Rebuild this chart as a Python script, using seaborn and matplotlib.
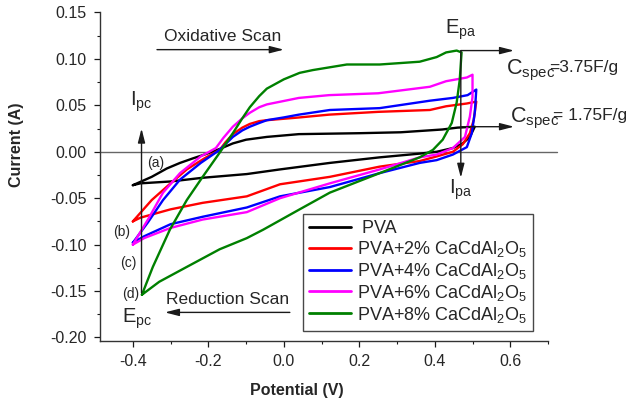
import numpy as np
import pandas as pd
import matplotlib
matplotlib.use("Agg")
import matplotlib.pyplot as plt
import seaborn as sns

# ---- cyclic voltammetry loops: forward (oxidative) branch then reverse branch ----
pva_v = [-0.40, -0.35, -0.31, -0.275, -0.24, -0.21, -0.17, -0.135, -0.10, -0.045, 0.04, 0.20, 0.31, 0.42, 0.46, 0.506,
         0.493, 0.474, 0.448, 0.405, 0.36, 0.254, 0.122, -0.01, -0.098, -0.215, -0.30, -0.38, -0.40]
pva_i = [-0.036, -0.027, -0.018, -0.012, -0.007, -0.003, 0.003, 0.009, 0.013, 0.016, 0.019, 0.020, 0.021, 0.024, 0.026, 0.027,
         0.016, 0.009, 0.004, 0.000, -0.002, -0.006, -0.012, -0.019, -0.024, -0.028, -0.032, -0.034, -0.036]

pva2_v = [-0.40, -0.35, -0.30, -0.257, -0.21, -0.17, -0.155, -0.135, -0.11, -0.09, -0.065, -0.045, 0.042, 0.12, 0.25,
          0.387, 0.43, 0.485, 0.51,
          0.503, 0.493, 0.474, 0.448, 0.405, 0.36, 0.254, 0.122, -0.01, -0.098, -0.215, -0.30, -0.38, -0.40]
pva2_i = [-0.075, -0.052, -0.034, -0.019, -0.007, 0.002, 0.010, 0.019, 0.026, 0.030, 0.033, 0.034, 0.037, 0.040, 0.043,
          0.045, 0.049, 0.052, 0.054,
          0.034, 0.020, 0.008, 0.000, -0.005, -0.010, -0.016, -0.027, -0.035, -0.048, -0.055, -0.062, -0.071, -0.075]

pva4_v = [-0.40, -0.36, -0.32, -0.275, -0.22, -0.17, -0.155, -0.135, -0.11, -0.09, -0.065, -0.045, 0.0, 0.04, 0.122,
          0.254, 0.387, 0.448, 0.487, 0.51,
          0.506, 0.498, 0.485, 0.448, 0.405, 0.36, 0.254, 0.122, -0.01, -0.098, -0.215, -0.30, -0.37, -0.40]
pva4_i = [-0.098, -0.076, -0.052, -0.030, -0.012, 0.002, 0.008, 0.016, 0.023, 0.027, 0.031, 0.034, 0.037, 0.040, 0.045,
          0.047, 0.055, 0.058, 0.061, 0.067,
          0.042, 0.020, 0.005, -0.003, -0.009, -0.012, -0.023, -0.038, -0.048, -0.060, -0.070, -0.078, -0.091, -0.098]

pva6_v = [-0.40, -0.36, -0.32, -0.275, -0.22, -0.18, -0.16, -0.135, -0.11, -0.09, -0.065, -0.045, 0.04, 0.12, 0.25,
          0.387, 0.43, 0.485, 0.50,
          0.50, 0.493, 0.48, 0.448, 0.405, 0.36, 0.254, 0.122, -0.01, -0.098, -0.215, -0.30, -0.37, -0.40]
pva6_i = [-0.100, -0.073, -0.044, -0.023, -0.005, 0.004, 0.015, 0.027, 0.036, 0.042, 0.048, 0.051, 0.058, 0.061, 0.063,
          0.070, 0.076, 0.080, 0.083,
          0.059, 0.038, 0.016, 0.004, -0.003, -0.006, -0.019, -0.034, -0.050, -0.065, -0.073, -0.082, -0.093, -0.100]

pva8_v = [-0.376, -0.347, -0.302, -0.257, -0.215, -0.17, -0.135, -0.11, -0.09, -0.065, -0.045, 0.0, 0.042, 0.077, 0.167,
          0.254, 0.325, 0.36, 0.405, 0.43, 0.458, 0.471,
          0.466, 0.458, 0.445, 0.421, 0.395, 0.36, 0.254, 0.122, 0.042, -0.055, -0.098, -0.17, -0.257, -0.33, -0.376]
pva8_i = [-0.154, -0.124, -0.084, -0.052, -0.027, -0.001, 0.020, 0.036, 0.048, 0.060, 0.068, 0.078, 0.085, 0.088, 0.094,
          0.094, 0.096, 0.097, 0.102, 0.107, 0.109, 0.107,
          0.077, 0.053, 0.031, 0.013, 0.002, -0.006, -0.023, -0.044, -0.062, -0.084, -0.093, -0.105, -0.124, -0.140, -0.154]

labels = [" PVA",
          "PVA+2% CaCdAl$_2$O$_5$",
          "PVA+4% CaCdAl$_2$O$_5$",
          "PVA+6% CaCdAl$_2$O$_5$",
          "PVA+8% CaCdAl$_2$O$_5$"]
colors = ["#000000", "#ff0000", "#0000ff", "#ff00ff", "#008000"]

x_ticks = [-0.4, -0.2, 0.0, 0.2, 0.4, 0.6]
y_ticks = [-0.20, -0.15, -0.10, -0.05, 0.00, 0.05, 0.10, 0.15]

# ---- tidy table for seaborn ----
frames = []
for lab, v, i in zip(labels, [pva_v, pva2_v, pva4_v, pva6_v, pva8_v],
                     [pva_i, pva2_i, pva4_i, pva6_i, pva8_i]):
    frames.append(pd.DataFrame({"Potential": v, "Current": i, "Sample": lab,
                                "step": np.arange(len(v))}))
df = pd.concat(frames, ignore_index=True)

sns.set_theme(style="ticks")
plt.rcParams["font.family"] = ["Liberation Sans", "DejaVu Sans"]
plt.rcParams["mathtext.fontset"] = "custom"
plt.rcParams["mathtext.rm"] = "Liberation Sans"
plt.rcParams["mathtext.it"] = "Liberation Sans:italic"
plt.rcParams["mathtext.bf"] = "Liberation Sans:bold"

fig = plt.figure(figsize=(6.27, 4.01), dpi=100)
ax = fig.add_axes([100 / 627, 1 - 341 / 401, 448 / 627, 328.5 / 401])

sns.lineplot(data=df, x="Potential", y="Current", hue="Sample", hue_order=labels,
             palette=colors, sort=False, estimator=None, lw=1.7, ax=ax)

ax.set_xlim(-0.487, 0.699)
ax.set_ylim(-0.2038, 0.15)
ax.set_xticks(x_ticks)
ax.set_xticklabels([f"{t:.1f}" for t in x_ticks])
ax.set_yticks(y_ticks)
ax.set_yticklabels([f"{t:.2f}" for t in y_ticks])
ax.set_xticks(np.arange(-0.4, 0.71, 0.1), minor=True)
ax.set_yticks(np.arange(-0.2, 0.151, 0.025), minor=True)
ax.tick_params(which="major", direction="out", length=4.5, width=0.9, labelsize=11.5, color="k", pad=5)
ax.tick_params(which="minor", direction="out", length=2.5, width=0.8, color="k")
sns.despine(ax=ax)
for s in ("left", "bottom"):
    ax.spines[s].set_color("#333333")
    ax.spines[s].set_linewidth(1.0)

ax.set_xlabel("Potential (V)", fontsize=11.5, fontweight="bold")
ax.xaxis.set_label_coords((297 - 100) / 448, -0.128)
ax.set_ylabel("Current (A)", fontsize=11.5, fontweight="bold")
ax.yaxis.set_label_coords(-0.17, (341 - 145) / 328.5)

# zero-current reference line
ax.plot([0, 1.02], [0, 0], transform=ax.get_yaxis_transform(), color="#666666",
        lw=1.0, clip_on=False, zorder=1)

arrow = dict(arrowstyle="-|>,head_length=0.7,head_width=0.18", color="k", lw=1.0,
             shrinkA=0, shrinkB=0, mutation_scale=12)

# scan direction arrows
ax.annotate("", xy=(0.0, 0.110), xytext=(-0.336, 0.110), arrowprops=arrow)
ax.text(-0.162, 0.124, "Oxidative Scan", fontsize=12.5, ha="center", va="center")
ax.annotate("", xy=(-0.315, -0.173), xytext=(0.016, -0.173), arrowprops=arrow)
ax.text(-0.148, -0.159, "Reduction Scan", fontsize=12.5, ha="center", va="center")

# anodic peak markers
ax.annotate("", xy=(0.61, 0.109), xytext=(0.469, 0.109), arrowprops=arrow)
ax.annotate("", xy=(0.469, -0.028), xytext=(0.469, 0.109), arrowprops=arrow)
ax.annotate("", xy=(0.61, 0.027), xytext=(0.469, 0.027), arrowprops=arrow)
ax.text(0.469, 0.131, r"$\mathregular{E_{pa}}$", fontsize=14.5, ha="center", va="center")
ax.text(0.469, -0.041, r"$\mathregular{I_{pa}}$", fontsize=14.5, ha="center", va="center")

# specific capacitance labels
ax.text(0.588, 0.088, r"$\mathregular{C_{spec}}$", fontsize=15.5, ha="left", va="center")
ax.text(0.702, 0.091, "=3.75F/g", fontsize=12.5, ha="left", va="center")
ax.text(0.598, 0.036, r"$\mathregular{C_{spec}}$", fontsize=15.5, ha="left", va="center")
ax.text(0.712, 0.039, "= 1.75F/g", fontsize=12.5, ha="left", va="center")

# cathodic peak markers
ax.annotate("", xy=(-0.377, 0.025), xytext=(-0.377, -0.152), arrowprops=arrow)
ax.text(-0.378, 0.054, r"$\mathregular{I_{pc}}$", fontsize=14.5, ha="center", va="center")
ax.text(-0.39, -0.180, r"$\mathregular{E_{pc}}$", fontsize=14.5, ha="center", va="center")

for txt, (xv, yv) in zip(["(a)", "(b)", "(c)", "(d)"],
                         [(-0.34, -0.012), (-0.43, -0.086), (-0.413, -0.120), (-0.405, -0.153)]):
    ax.text(xv, yv, txt, fontsize=10, ha="center", va="center")

leg = ax.legend(loc="upper left", bbox_to_anchor=((303 - 100) / 448, (341 - 214) / 328.5),
                fontsize=13, frameon=True, fancybox=False, edgecolor="k",
                handlelength=2.3, handletextpad=0.35, labelspacing=0.1, borderpad=0.35,
                borderaxespad=0)
leg.get_frame().set_linewidth(1.0)
for line in leg.get_lines():
    line.set_linewidth(2)

fig.savefig("out.png", dpi=100)
